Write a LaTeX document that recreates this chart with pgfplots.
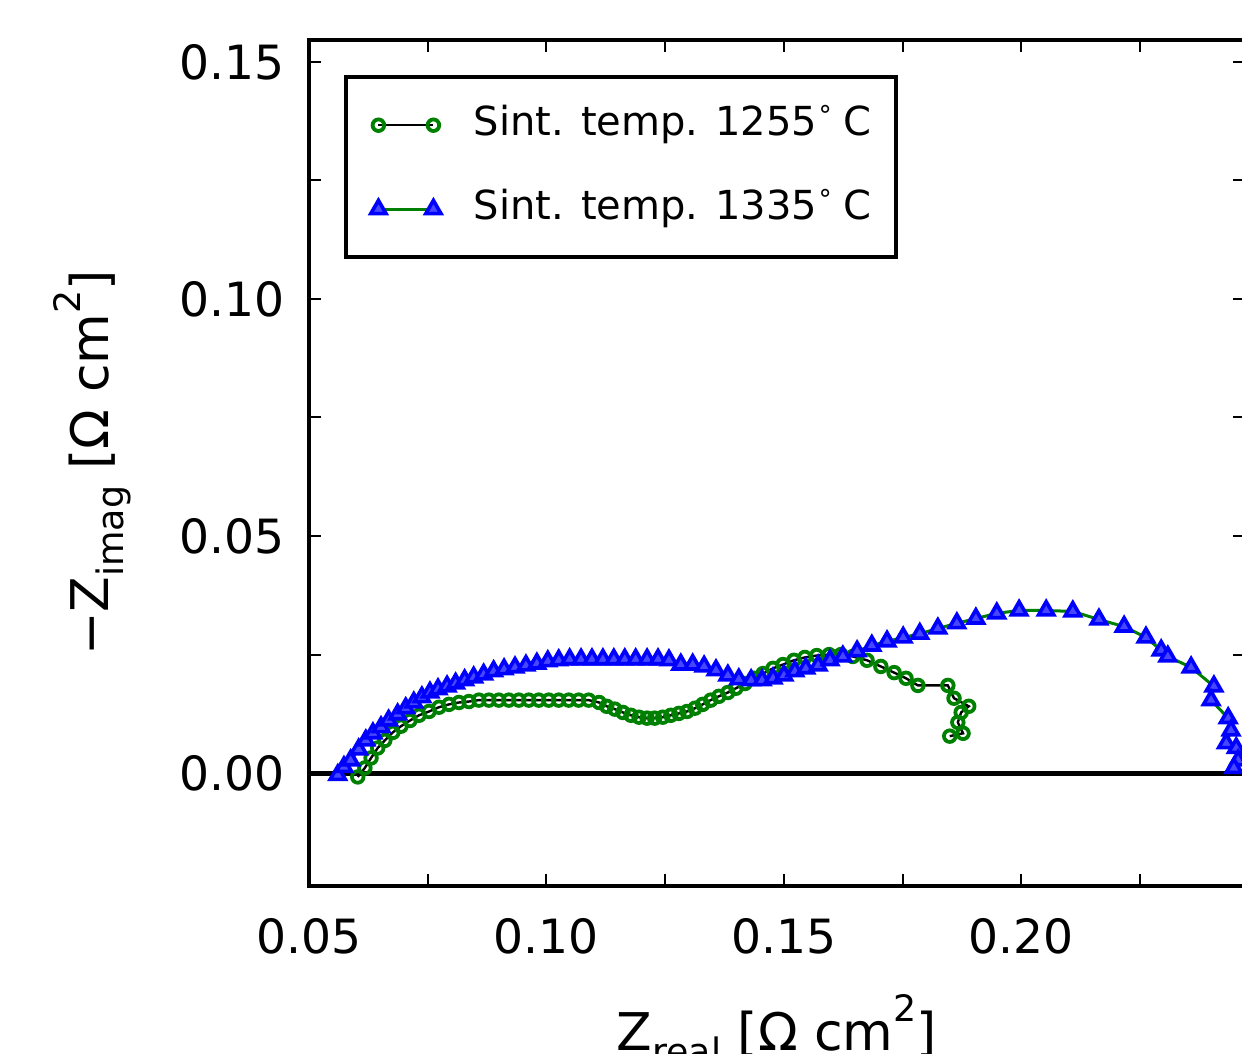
\documentclass[border=0pt]{standalone}
\usepackage{fontspec}
\setmainfont{DejaVu Sans}
\usepackage{pgfplots}
\pgfplotsset{compat=1.18}
\definecolor{mplgreen}{RGB}{0,128,0}
\definecolor{mplblue}{RGB}{0,0,255}
\newcommand{\lsub}[1]{\raisebox{-0.28em}{\fontsize{9.1}{10}\selectfont #1}}
\newcommand{\lsup}[1]{\raisebox{0.55em}{\fontsize{9.1}{10}\selectfont #1}}
\newcommand{\degsym}{\raisebox{0.45em}{\fontsize{6.5}{7}\selectfont ∘}\hspace{0.25em}}
\begin{document}
\begin{tikzpicture}
\begin{axis}[
  scale only axis,
  width=234pt, height=211.5pt,
  xmin=0.05, xmax=0.247,
  ymin=-0.0238, ymax=0.1546,
  xtick={0.05,0.10,0.15,0.20},
  minor xtick={0.075,0.125,0.175,0.225},
  ytick={0,0.05,0.10,0.15},
  minor ytick={0.025,0.075,0.125},
  major tick length=3pt, minor tick length=3pt,
  tick style={line width=0.5pt, black},
  tick align=inside,
  axis line style={line width=1.1pt},
  scaled ticks=false,
  /pgf/number format/fixed,
  /pgf/number format/fixed zerofill,
  /pgf/number format/precision=2,
  /pgf/number format/assume math mode=true,
  ticklabel style={font=\fontsize{11.8}{13}\selectfont},
  xticklabel style={anchor=north, inner sep=0pt, yshift=-8pt},
  yticklabel style={anchor=east, inner sep=0pt, xshift=-5.75pt},
  xlabel={Z\lsub{real} [Ω cm\lsup{2}]},
  ylabel={−Z\lsub{imag} [Ω cm\lsup{2}]},
  label style={font=\fontsize{13}{15}\selectfont},
  xlabel style={at={(axis description cs:0.5,-0.1939)}, anchor=base, inner sep=0pt},
  ylabel style={at={(axis description cs:-0.2137,0.5)}, anchor=base, inner sep=0pt},
  legend style={at={(0,1)}, anchor=north west, xshift=8.75pt, yshift=-8.75pt,
    draw=black, line width=1.1pt, inner xsep=6.2pt, inner ysep=7.5pt,
    font=\fontsize{10}{12}\selectfont,
    nodes={inner sep=0pt, text height=7pt, text depth=2pt},
    row sep=12pt, column sep=8.2pt, legend cell align=left},
  legend image code/.code={
    \draw[mark repeat=1, mark phase=1, #1] plot coordinates {(0pt,0pt) (13.75pt,0pt)};
  },
]
\addplot[black, line width=1.2pt, forget plot] coordinates {(0.03,0) (0.30,0)};

\addplot[black, line width=0.6pt, mark=o, mark size=1.45pt,
  mark options={draw=mplgreen, fill=white, line width=0.95pt}] coordinates {
(0.0603,-0.0008) (0.0618,0.0011) (0.0631,0.0032) (0.0645,0.0053) (0.0660,0.0069)
(0.0677,0.0086) (0.0694,0.0099) (0.0713,0.0111) (0.0732,0.0122) (0.0753,0.0130)
(0.0774,0.0139) (0.0795,0.0145) (0.0816,0.0149) (0.0837,0.0151) (0.0858,0.0154)
(0.0879,0.0154) (0.0900,0.0154) (0.0921,0.0154) (0.0942,0.0154) (0.0963,0.0154)
(0.0984,0.0154) (0.1005,0.0154) (0.1026,0.0154) (0.1047,0.0154) (0.1068,0.0154)
(0.1089,0.0154) (0.1111,0.0149) (0.1127,0.0141) (0.1144,0.0135) (0.1161,0.0128)
(0.1178,0.0122) (0.1195,0.0118) (0.1212,0.0116) (0.1228,0.0116) (0.1245,0.0118)
(0.1262,0.0122) (0.1279,0.0126) (0.1296,0.0130) (0.1313,0.0137) (0.1329,0.0145)
(0.1346,0.0154) (0.1363,0.0162) (0.1382,0.0170) (0.1399,0.0179) (0.1418,0.0189)
(0.1437,0.0200) (0.1456,0.0210) (0.1477,0.0221) (0.1498,0.0229) (0.1521,0.0238)
(0.1544,0.0244) (0.1569,0.0248) (0.1595,0.0250) (0.1620,0.0250) (0.1645,0.0246)
(0.1675,0.0238) (0.1704,0.0225) (0.1732,0.0212) (0.1757,0.0200) (0.1782,0.0185)
(0.1845,0.0185) (0.1858,0.0158) (0.1889,0.0141) (0.1873,0.0128) (0.1866,0.0107)
(0.1877,0.0084) (0.1849,0.0078)
};
\addlegendentry{Sint. temp. 1255\degsym C}

\addplot[mplgreen, line width=0.75pt, mark=triangle*, mark size=2.2pt,
  mark options={draw=mplblue, fill=mplblue!72!white, line width=0.9pt}] coordinates {
(0.0561,-0.0004) (0.0574,0.0013) (0.0588,0.0027) (0.0605,0.0050) (0.0620,0.0069)
(0.0635,0.0084) (0.0652,0.0097) (0.0668,0.0111) (0.0687,0.0124) (0.0704,0.0137)
(0.0721,0.0149) (0.0738,0.0160) (0.0755,0.0170) (0.0772,0.0177) (0.0791,0.0183)
(0.0809,0.0189) (0.0828,0.0196) (0.0847,0.0202) (0.0868,0.0208) (0.0889,0.0215)
(0.0911,0.0219) (0.0934,0.0223) (0.0957,0.0227) (0.0980,0.0231) (0.1003,0.0236)
(0.1026,0.0238) (0.1049,0.0240) (0.1073,0.0240) (0.1096,0.0240) (0.1119,0.0240)
(0.1142,0.0240) (0.1165,0.0240) (0.1188,0.0240) (0.1212,0.0240) (0.1235,0.0240)
(0.1258,0.0238) (0.1283,0.0229) (0.1308,0.0229) (0.1332,0.0225) (0.1357,0.0217)
(0.1382,0.0206) (0.1405,0.0198) (0.1431,0.0196) (0.1454,0.0196) (0.1477,0.0200)
(0.1500,0.0206) (0.1523,0.0215) (0.1546,0.0221) (0.1572,0.0227) (0.1597,0.0238)
(0.1624,0.0246) (0.1654,0.0257) (0.1685,0.0269) (0.1717,0.0278) (0.1751,0.0286)
(0.1786,0.0294) (0.1824,0.0305) (0.1864,0.0316) (0.1904,0.0326) (0.1948,0.0337)
(0.1995,0.0343) (0.2052,0.0343) (0.2108,0.0341) (0.2163,0.0324) (0.2216,0.0309)
(0.2262,0.0286) (0.2294,0.0259) (0.2308,0.0246) (0.2357,0.0223) (0.2405,0.0183)
(0.2399,0.0154) (0.2435,0.0116) (0.2441,0.0090) (0.2431,0.0063) (0.2452,0.0053)
(0.2456,0.0027) (0.2447,0.0011)
};
\addlegendentry{Sint. temp. 1335\degsym C}
\end{axis}
\pgfresetboundingbox
\useasboundingbox (-77.2pt,-41.75pt) rectangle (233.3pt,221.5pt);
\end{tikzpicture}
\end{document}
